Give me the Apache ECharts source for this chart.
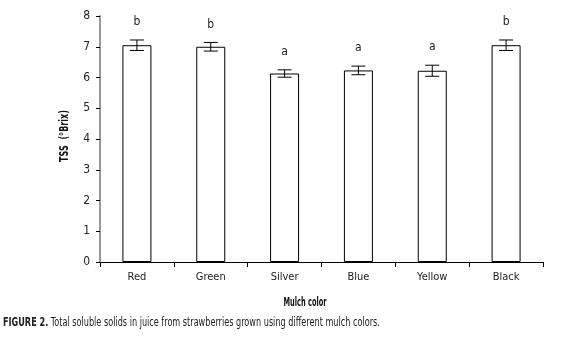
<!DOCTYPE html>
<html>
<head>
<meta charset="utf-8">
<script src="https://cdn.jsdelivr.net/npm/echarts@6/dist/echarts.min.js"></script>
<style>
  html, body { margin: 0; padding: 0; background: #fff; }
  #chart { width: 578px; height: 337px; }
</style>
</head>
<body>
<div id="chart"></div>
<script>
const categories = ['Red', 'Green', 'Silver', 'Blue', 'Yellow', 'Black']
const tssMeans = [7.05, 7.0, 6.13, 6.23, 6.22, 7.05]
const tssErrors = [0.17, 0.14, 0.12, 0.14, 0.18, 0.17]
const groupLetters = ['b', 'b', 'a', 'a', 'a', 'b']
const yTicks = [0, 1, 2, 3, 4, 5, 6, 7, 8]

const narrowFont = "'DejaVu Sans Condensed', sans-serif"

// the original uses a very narrow font, so squeeze the free texts to their widths
const ctx = document.createElement('canvas').getContext('2d')
function textWidth(text, font) {
  ctx.font = font
  return ctx.measureText(text).width
}

const caption = 'FIGURE 2. Total soluble solids in juice from strawberries grown using different mulch colors.'
const captionScale = 372 / textWidth(caption, '13px ' + narrowFont)
const xNameScale = 43 / textWidth('Mulch color', 'bold 12px ' + narrowFont)
const yNameScale = 52 / textWidth('TSS  (°Brix)', 'bold 12px ' + narrowFont)

const chart = echarts.init(document.getElementById('chart'))

const errorData = categories.map((c, i) => [i, tssMeans[i], tssErrors[i], groupLetters[i]])

chart.setOption({
  animation: false,
  grid: { left: 100, right: 35, top: 16, bottom: 75 },
  xAxis: {
    type: 'category',
    data: categories,
    axisLine: { lineStyle: { color: '#000', width: 1 } },
    axisTick: { show: true, length: 5, lineStyle: { color: '#000' } },
    axisLabel: { color: '#222', fontFamily: narrowFont, fontSize: 11, margin: 10 }
  },
  yAxis: {
    type: 'value',
    min: yTicks[0],
    max: yTicks[yTicks.length - 1],
    interval: 1,
    splitLine: { show: false },
    axisLine: { show: true, lineStyle: { color: '#999', width: 2 } },
    axisTick: { show: true, length: 4, lineStyle: { color: '#000' } },
    axisLabel: { color: '#222', fontFamily: narrowFont, fontSize: 12, margin: 10 }
  },
  series: [
    {
      type: 'bar',
      data: tssMeans,
      barWidth: 29,
      itemStyle: { color: '#fff', borderColor: '#000', borderWidth: 1 }
    },
    {
      type: 'custom',
      data: errorData,
      encode: { x: 0, y: 1 },
      z: 5,
      renderItem: function (params, api) {
        const x = api.value(0)
        const mean = api.value(1)
        const err = api.value(2)
        const hi = api.coord([x, mean + err])
        const lo = api.coord([x, mean - err])
        const half = 7
        const style = { stroke: '#000', lineWidth: 1 }
        return {
          type: 'group',
          children: [
            { type: 'line', shape: { x1: hi[0], y1: hi[1], x2: lo[0], y2: lo[1] }, style },
            { type: 'line', shape: { x1: hi[0] - half, y1: hi[1], x2: hi[0] + half, y2: hi[1] }, style },
            { type: 'line', shape: { x1: lo[0] - half, y1: lo[1], x2: lo[0] + half, y2: lo[1] }, style },
            {
              type: 'text',
              x: hi[0],
              y: hi[1] - 12,
              style: {
                text: api.value(3),
                fill: '#222',
                font: '12px ' + narrowFont,
                textAlign: 'center',
                textVerticalAlign: 'bottom'
              }
            }
          ]
        }
      }
    }
  ],
  graphic: [
    {
      type: 'text',
      x: 305,
      y: 303,
      scaleX: xNameScale,
      style: {
        text: 'Mulch color',
        font: 'bold 12px ' + narrowFont,
        fill: '#111',
        textAlign: 'center',
        textVerticalAlign: 'middle'
      }
    },
    {
      type: 'text',
      x: 65,
      y: 136,
      rotation: Math.PI / 2,
      scaleX: yNameScale,
      style: {
        text: 'TSS  (°Brix)',
        font: 'bold 12px ' + narrowFont,
        fill: '#111',
        textAlign: 'center',
        textVerticalAlign: 'middle'
      }
    },
    {
      type: 'text',
      x: 3,
      y: 323,
      scaleX: captionScale,
      style: {
        text: '{b|FIGURE 2.} Total soluble solids in juice from strawberries grown using different mulch colors.',
        font: '13px ' + narrowFont,
        fill: '#222',
        textVerticalAlign: 'middle',
        rich: {
          b: { font: 'bold 13px ' + narrowFont, fill: '#222' }
        }
      }
    }
  ]
})

window.addEventListener('resize', () => {
  chart.resize()
})
</script>
</body>
</html>
